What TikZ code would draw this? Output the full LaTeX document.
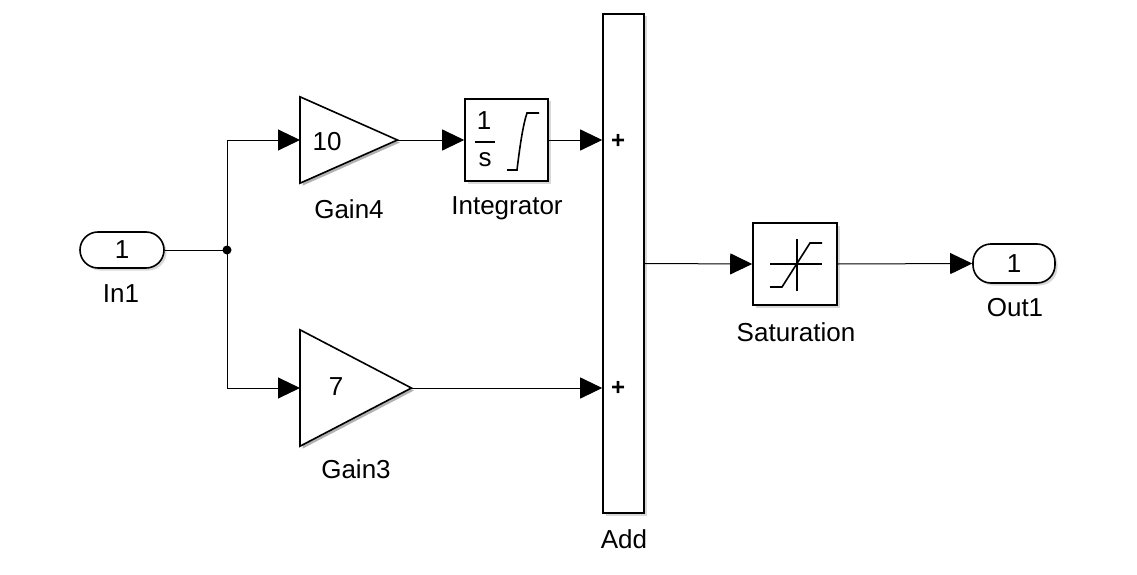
\documentclass[tikz,border=0pt]{standalone}
\usepackage{fontspec}
\setmainfont{Liberation Sans}
\usetikzlibrary{arrows.meta,positioning,calc,shadows}

\tikzset{
    blk/.style={draw, line width=1.6pt, fill=white, inner sep=0pt,
        drop shadow={shadow xshift=2.5pt, shadow yshift=-2.5pt, fill=black!30}},
    port/.style={blk, rounded corners=18pt},
    gainbox/.style={inner sep=0pt},
    sig/.style={line width=1pt, -{Triangle[length=22pt,width=21pt]}},
    wire/.style={line width=1pt},
    icon/.style={line width=1.6pt},
    lbl/.style={inner sep=0pt, anchor=base},
    sign/.style={inner sep=0pt, font=\fontsize{24}{28}\selectfont\bfseries}
}

\begin{document}
\begin{tikzpicture}[
    x=1pt, y=-1pt,
    every node/.style={font=\fontsize{26}{30}\selectfont}
]
    \useasboundingbox (0,0) rectangle (1137,575);

    % ports
    \node[port, minimum width=84pt, minimum height=36pt] (in1) at (122,250) {1};
    \node[port, minimum width=82pt, minimum height=39pt] (out1) at (1014,263.5) {1};
    \node[circle, fill, inner sep=0pt, minimum size=9pt] (jn) at (227,250) {};

    % gains
    \node[gainbox, minimum width=97pt, minimum height=86pt, anchor=west] (gain4) at (300,140) {};
    \fill[black!30] ($(gain4.north west)+(2.5,2.5)$) -- ($(gain4.east)+(2.5,2.5)$) -- ($(gain4.south west)+(2.5,2.5)$) -- cycle;
    \draw[icon, fill=white] (gain4.north west) -- (gain4.east) -- (gain4.south west) -- cycle;
    \node[lbl] (gain4val) at (327,150) {10};

    \node[gainbox, minimum width=111pt, minimum height=116pt, anchor=west] (gain3) at (300,388) {};
    \fill[black!30] ($(gain3.north west)+(2.5,2.5)$) -- ($(gain3.east)+(2.5,2.5)$) -- ($(gain3.south west)+(2.5,2.5)$) -- cycle;
    \draw[icon, fill=white] (gain3.north west) -- (gain3.east) -- (gain3.south west) -- cycle;
    \node[lbl] (gain3val) at (336,395) {7};

    % integrator
    \node[blk, minimum width=83pt, minimum height=82pt] (integ) at (506.5,140) {};
    \node[lbl] (integnum) at (484,129) {1};
    \draw[icon] (475,142) -- (495,142);
    \node[lbl] (integden) at (485,166) {s};
    \draw[icon] (507,170) -- (517,170) .. controls (520,145) and (523,125) .. (527,113) -- (539,113);

    % sum
    \node[blk, minimum width=41pt, minimum height=499pt] (add) at (623.5,263.5) {};
    \node[sign] (plus1) at (618,141) {+};
    \node[sign] (plus2) at (618,388) {+};

    % saturation
    \node[blk, minimum width=84pt, minimum height=82pt] (sat) at (795,264) {};
    \draw[icon] (770,264) -- (822,264);
    \draw[icon] (797,239) -- (797,291);
    \draw[icon] (770,287) -- (782,287) -- (810,243) -- (822,243);

    % connections
    \draw[wire] (in1.east) -- (jn.center);
    \draw[sig] (jn.center) |- (gain4.west);
    \draw[sig] (jn.center) |- (gain3.west);
    \draw[sig] (gain4.east) -- (integ.west);
    \draw[sig] (integ.east) -- (integ.east -| add.west);
    \draw[sig] (gain3.east) -- (gain3.east -| add.west);
    \draw[sig] (add.east) -- (sat.west);
    \draw[sig] (sat.east) -- (out1.west);

    % block names
    \node[lbl] (in1name) at (121,302) {In1};
    \node[lbl] (gain4name) at (349,218) {Gain4};
    \node[lbl] (integname) at (507,214) {Integrator};
    \node[lbl] (gain3name) at (356,478) {Gain3};
    \node[lbl] (addname) at (624,548) {Add};
    \node[lbl] (satname) at (796,341) {Saturation};
    \node[lbl] (out1name) at (1015,316) {Out1};
\end{tikzpicture}
\end{document}
